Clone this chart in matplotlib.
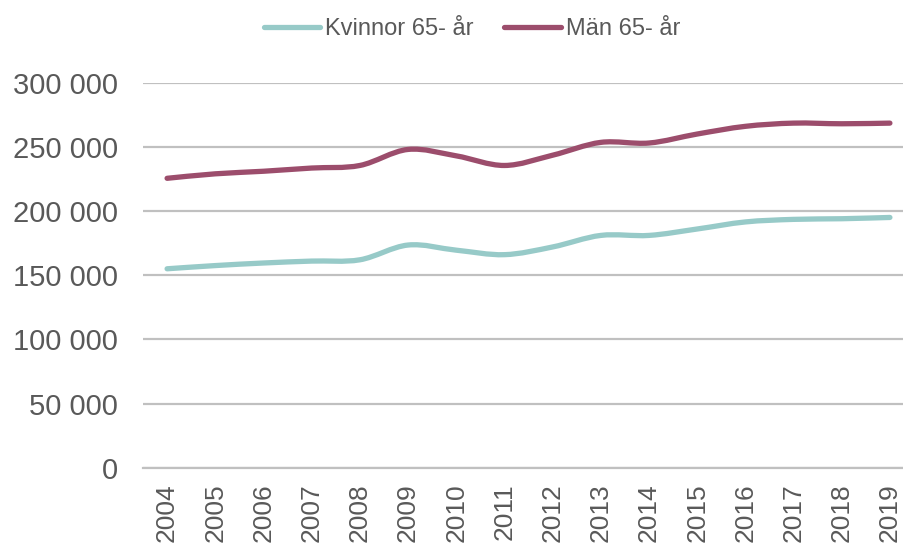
import numpy as np
import matplotlib
matplotlib.use("Agg")
import matplotlib.pyplot as plt
from matplotlib.path import Path
from matplotlib.patches import PathPatch
from matplotlib.lines import Line2D
from matplotlib.ticker import FuncFormatter

years = [2004, 2005, 2006, 2007, 2008, 2009, 2010, 2011, 2012, 2013, 2014, 2015, 2016, 2017, 2018, 2019]
kvinnor = [155000, 157500, 159500, 161000, 162000, 173500, 169500, 166000, 172000, 181000, 181000, 186000, 191500, 193500, 194000, 195000]
man = [225500, 229000, 231000, 233500, 235500, 248000, 243000, 235500, 243500, 253500, 253000, 260000, 266000, 268500, 268000, 268500]
series_names = ["Kvinnor 65- år", "Män 65- år"]
colors = ["#97CAC8", "#9C4D6C"]

plt.rcParams['font.family'] = ['Liberation Sans', 'DejaVu Sans']
TXT = "#595959"

fig = plt.figure(figsize=(9.04, 5.46), dpi=100)
W, H = 904, 546
left_px, right_px, top_px, bot_px = 143, 914, 82.7, 467.7
ax = fig.add_axes([left_px / W, 1 - bot_px / H, (right_px - left_px) / W, (bot_px - top_px) / H])


def smooth_path(x, y):
    x = np.asarray(x, float)
    y = np.asarray(y, float)
    n = len(x)
    verts = [(x[0], y[0])]
    codes = [Path.MOVETO]
    for i in range(n - 1):
        p0 = np.array([x[max(i - 1, 0)], y[max(i - 1, 0)]])
        p1 = np.array([x[i], y[i]])
        p2 = np.array([x[i + 1], y[i + 1]])
        p3 = np.array([x[min(i + 2, n - 1)], y[min(i + 2, n - 1)]])
        c1 = p1 + (p2 - p0) / 6.0
        c2 = p2 - (p3 - p1) / 6.0
        verts += [tuple(c1), tuple(c2), tuple(p2)]
        codes += [Path.CURVE4] * 3
    return Path(verts, codes)


for vals, col in zip([kvinnor, man], colors):
    patch = PathPatch(smooth_path(years, vals), facecolor="none", edgecolor=col,
                      lw=3.8, capstyle="round", joinstyle="round", zorder=3)
    ax.add_patch(patch)

ax.set_xlim(years[0] - 0.5, years[-1] + 0.5)
ax.set_ylim(0, 300000)
ax.set_yticks(np.arange(0, 300001, 50000))
ax.yaxis.set_major_formatter(FuncFormatter(lambda v, p: f"{int(v):,}".replace(",", " ")))
ax.set_xticks(years)
ax.set_xticklabels([str(y) for y in years], rotation=90, va="top", ha="center")

ax.grid(axis="y", color="#C0C0C0", lw=1.6, zorder=0)
ax.set_axisbelow(True)
for s in ["top", "right", "left"]:
    ax.spines[s].set_visible(False)
ax.spines["bottom"].set_color("#C0C0C0")
ax.spines["bottom"].set_linewidth(1.6)
ax.tick_params(axis="y", length=0, pad=18, labelsize=21, labelcolor=TXT)
ax.tick_params(axis="x", length=0, pad=11, labelsize=19, labelcolor=TXT)

handles = [Line2D([0], [0], color=c, lw=3.8, solid_capstyle="round") for c in colors]
fig.legend(handles, series_names, loc="center", bbox_to_anchor=(472 / W, 1 - 29 / H),
           ncol=2, frameon=False, fontsize=17, labelcolor=TXT, handlelength=2.4,
           handletextpad=0.2, columnspacing=1.3)

fig.savefig("out.png", dpi=100)
